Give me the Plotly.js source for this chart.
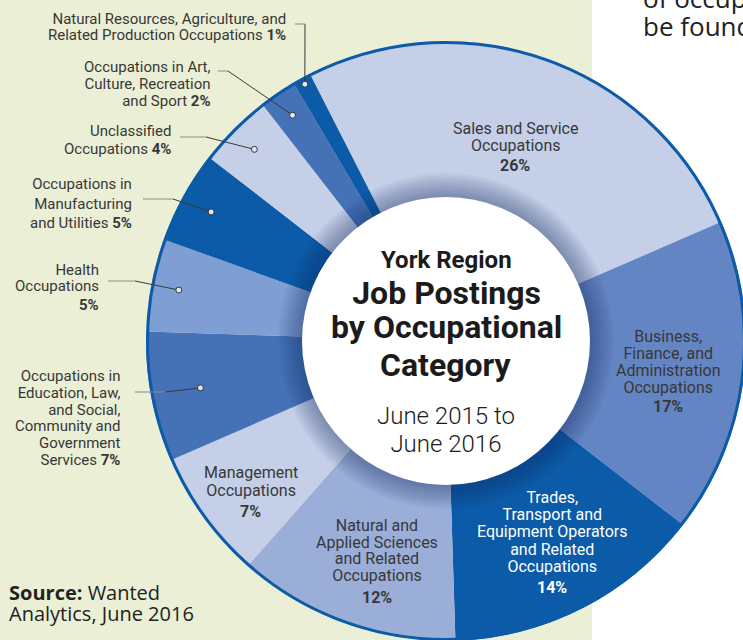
<!DOCTYPE html>
<html>
<head>
<meta charset="utf-8">
<script src="https://cdn.plot.ly/plotly-3.0.1.min.js"></script>
<style>
html,body{margin:0;padding:0;overflow:hidden;background:#fff;width:743px;height:640px;}
#chart{width:760px;height:700px;}
</style>
</head>
<body>
<div id="chart"></div>
<script>
// ---------- data ----------
const categories = [
  "Sales and Service Occupations",
  "Business, Finance, and Administration Occupations",
  "Trades, Transport and Equipment Operators and Related Occupations",
  "Natural and Applied Sciences and Related Occupations",
  "Management Occupations",
  "Occupations in Education, Law, and Social, Community and Government Services",
  "Health Occupations",
  "Occupations in Manufacturing and Utilities",
  "Unclassified Occupations",
  "Occupations in Art, Culture, Recreation and Sport",
  "Natural Resources, Agriculture, and Related Production Occupations"
];
const shares = [26, 17, 14, 12, 7, 7, 5, 5, 4, 2, 1];
const labelLines = [
  ["Sales and Service", "Occupations"],
  ["Business,", "Finance, and", "Administration", "Occupations"],
  ["Trades,", "Transport and", "Equipment Operators", "and Related", "Occupations"],
  ["Natural and", "Applied Sciences", "and Related", "Occupations"],
  ["Management", "Occupations"],
  ["Occupations in", "Education, Law,", "and Social,", "Community and", "Government", "Services"],
  ["Health", "Occupations"],
  ["Occupations in", "Manufacturing", "and Utilities"],
  ["Unclassified", "Occupations"],
  ["Occupations in Art,", "Culture, Recreation", "and Sport"],
  ["Natural Resources, Agriculture, and", "Related Production Occupations"]
];
const titleTop = "York Region";
const titleMain = ["Job Postings", "by Occupational"];
const titleLast = "Category";
const subtitleLines = ["June 2015 to", "June 2016"];
const sourceBold = "Source:";
const sourceLines = [" Wanted", "Analytics, June 2016"];
const sideText = ["of occupations", "be found"];

// ---------- style ----------
const sliceColors = ["#c5cfe8", "#6485c4", "#0b5ba8", "#9aaed8", "#c5cfe8", "#4572b7",
                     "#7f9ed3", "#0b5ba8", "#c5cfe8", "#4572b7", "#0b5ba8"];
const W = 760, H = 700;
const cx = 446, cy = 341, R = 300, rWhite = 144;
const rotation = -27;
const LS = 1.3; // plotly line spacing (em)
function X(px) { return px / W; }
function Y(py) { return 1 - py / H; }

// x, block centre y, line spacing, anchor, font size, colour, pct: 'inline' or its own y
const labelLayout = [
  {x: 515,   yc: 136.5,  sp: 17,   anchor: 'center', size: 16, color: '#383838', pctY: 165.5},
  {x: 668,   yc: 361.5,  sp: 17,   anchor: 'center', size: 16, color: '#383838', pctY: 406.5},
  {x: 552,   yc: 532.3,  sp: 17.2, anchor: 'center', size: 16, color: '#ffffff', pctY: 587.5},
  {x: 377,   yc: 550,    sp: 16.7, anchor: 'center', size: 16, color: '#383838', pctY: 597},
  {x: 250.5, yc: 481,    sp: 18,   anchor: 'center', size: 16, color: '#383838', pctY: 511},
  {x: 122,   yc: 418,    sp: 16.8, anchor: 'right',  size: 15, color: '#383838', pctY: 'inline'},
  {x: 100,   yc: 278,    sp: 16,   anchor: 'right',  size: 15, color: '#383838', pctY: 305},
  {x: 133,   yc: 203.5,  sp: 19.5, anchor: 'right',  size: 15, color: '#383838', pctY: 'inline'},
  {x: 172,   yc: 140.3,  sp: 17.5, anchor: 'right',  size: 15, color: '#383838', pctY: 'inline'},
  {x: 212,   yc: 83.8,   sp: 16.8, anchor: 'right',  size: 15, color: '#383838', pctY: 'inline'},
  {x: 287,   yc: 27,     sp: 16,   anchor: 'right',  size: 15, color: '#383838', pctY: 'inline'}
];
const leaders = [
  {idx: 10, r: 293, pts: [[295, 24], [305, 24]]},
  {idx: 9,  r: 273, pts: [[218, 71], [228, 71]]},
  {idx: 8,  r: 271, pts: [[180, 137], [206, 137]]},
  {idx: 7,  r: 268, pts: [[143, 199], [173, 199]]},
  {idx: 6,  r: 272, pts: [[108, 281], [135, 281]]},
  {idx: 5,  r: 250, pts: [[135, 392], [165, 392]]}
];

// ---------- geometry from data ----------
const total = shares.reduce((a, b) => a + b, 0);
function midAngle(i) {
  let cum = 0;
  for (let k = 0; k < i; k++) cum += shares[k];
  return (rotation + 360 * (cum + shares[i] / 2) / total) * Math.PI / 180;
}
function sized(t, size) { return '<span style="font-size:' + size + 'px">' + t + '</span>'; }

const shapes = [];
const annotations = [];

// background panel
shapes.push({type: 'rect', xref: 'paper', yref: 'paper', x0: X(0), x1: X(592), y0: Y(640), y1: Y(-5),
  fillcolor: '#ebefd5', line: {width: 0}, layer: 'below'});

function circ(r, opts) {
  return Object.assign({type: 'circle', xref: 'paper', yref: 'paper',
    x0: X(cx - r), x1: X(cx + r), y0: Y(cy + r), y1: Y(cy - r), layer: 'above'}, opts);
}
// inner shadow rings
for (let k = 12; k >= 1; k--) {
  shapes.push(circ(rWhite + 2 * k, {fillcolor: 'rgba(35,45,90,0.038)', line: {width: 0}}));
}
shapes.push(circ(rWhite, {fillcolor: '#ffffff', line: {width: 0}}));
shapes.push(circ(R - 1.5, {fillcolor: 'rgba(0,0,0,0)', line: {color: '#0b5ba8', width: 3}}));

// leader lines with small open circles
leaders.forEach(L => {
  const a = midAngle(L.idx);
  const px = cx + L.r * Math.sin(a), py = cy - L.r * Math.cos(a);
  const p = L.pts;
  shapes.push({type: 'path', xref: 'paper', yref: 'paper', layer: 'above',
    path: 'M' + X(p[0][0]) + ',' + Y(p[0][1]) + ' L' + X(p[1][0]) + ',' + Y(p[1][1]),
    line: {color: '#8a8a8a', width: 1}});
  shapes.push({type: 'path', xref: 'paper', yref: 'paper', layer: 'above',
    path: 'M' + X(p[1][0]) + ',' + Y(p[1][1]) + ' L' + X(px) + ',' + Y(py),
    line: {color: '#3a3a3a', width: 1}});
  shapes.push({type: 'circle', xref: 'paper', yref: 'paper', layer: 'above',
    x0: X(px - 3), x1: X(px + 3), y0: Y(py + 3), y1: Y(py - 3),
    fillcolor: '#dfe5f2', line: {color: '#333333', width: 1}});
});

// slice labels
labelLayout.forEach((L, i) => {
  const lines = labelLines[i].slice();
  const pct = '<b>' + shares[i] + '%</b>';
  if (L.pctY === 'inline') lines[lines.length - 1] += ' ' + pct;
  annotations.push({x: X(L.x), y: Y(L.yc), xref: 'paper', yref: 'paper',
    text: lines.map(t => sized(t, L.size)).join('<br>'),
    showarrow: false, xanchor: L.anchor, yanchor: 'middle', align: L.anchor === 'right' ? 'right' : 'center',
    borderpad: 0, font: {family: 'Roboto', size: L.sp / LS, color: L.color}});
  if (L.pctY !== 'inline') {
    annotations.push({x: X(L.x), y: Y(L.pctY), xref: 'paper', yref: 'paper', text: pct,
      showarrow: false, xanchor: L.anchor, yanchor: 'middle', borderpad: 0,
      font: {family: 'Roboto', size: L.size, color: L.color}});
  }
});

// center title
annotations.push({x: X(cx), y: Y(260), xref: 'paper', yref: 'paper', text: '<b>' + titleTop + '</b>',
  showarrow: false, xanchor: 'center', yanchor: 'middle', borderpad: 0,
  font: {family: 'Roboto', size: 24, color: '#1b1b1b'}});
annotations.push({x: X(cx), y: Y(310.5), xref: 'paper', yref: 'paper',
  text: titleMain.map(t => sized('<b>' + t + '</b>', 32)).join('<br>'),
  showarrow: false, xanchor: 'center', yanchor: 'middle', borderpad: 0,
  font: {family: 'Roboto', size: 33.5 / LS, color: '#1b1b1b'}});
annotations.push({x: X(cx), y: Y(365), xref: 'paper', yref: 'paper', text: '<b>' + titleLast + '</b>',
  showarrow: false, xanchor: 'center', yanchor: 'middle', borderpad: 0,
  font: {family: 'Roboto', size: 32, color: '#1b1b1b'}});
annotations.push({x: X(cx), y: Y(430), xref: 'paper', yref: 'paper',
  text: subtitleLines.map(t => sized(t, 24)).join('<br>'),
  showarrow: false, xanchor: 'center', yanchor: 'middle', borderpad: 0,
  font: {family: 'Roboto', size: 27.5 / LS, color: '#1b1b1b', weight: 300}});

// source
annotations.push({x: X(8), y: Y(603.4), xref: 'paper', yref: 'paper',
  text: sized('<b>' + sourceBold + '</b>' + sourceLines[0], 20) + '<br>' + sized(sourceLines[1], 20),
  showarrow: false, xanchor: 'left', yanchor: 'middle', align: 'left', borderpad: 0,
  font: {family: 'Open Sans', size: 20.7 / LS, color: '#222'}});

// side text (cut off at the page edge, as in the original page)
annotations.push({x: X(642), y: Y(12), xref: 'paper', yref: 'paper',
  text: sideText.map(t => sized(t, 26)).join('<br>'),
  showarrow: false, xanchor: 'left', yanchor: 'middle', align: 'left', borderpad: 0,
  font: {family: 'Open Sans', size: 28 / LS, color: '#222'}});

const trace = {
  type: 'pie', values: shares, labels: categories, sort: false, direction: 'clockwise',
  rotation: rotation, hole: 0.46, textinfo: 'none', hoverinfo: 'skip', showlegend: false,
  marker: {colors: sliceColors, line: {width: 0}},
  domain: {x: [X(cx - R), X(cx + R)], y: [Y(cy + R), Y(cy - R)]}
};

Plotly.newPlot('chart', [trace], {
  width: W, height: H, margin: {l: 0, r: 0, t: 0, b: 0, pad: 0},
  paper_bgcolor: '#ffffff', plot_bgcolor: '#ffffff', showlegend: false,
  shapes: shapes, annotations: annotations
}, {staticPlot: true, displayModeBar: false});
</script>
</body>
</html>
